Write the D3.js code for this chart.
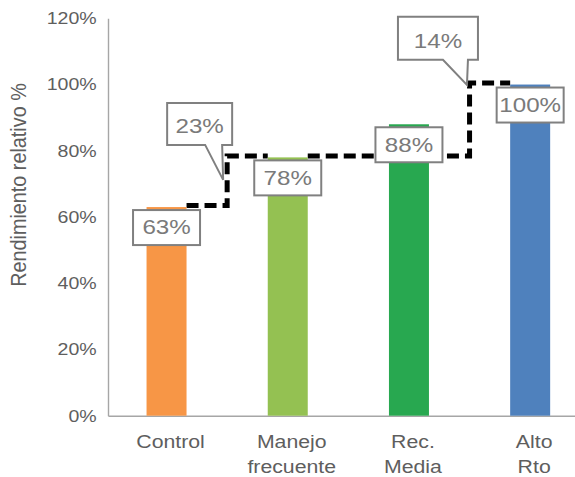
<!DOCTYPE html>
<html>
<head>
<meta charset="utf-8">
<script src="https://cdn.jsdelivr.net/npm/d3@7"></script>
<style>
  html, body { margin: 0; padding: 0; background: #fff; }
  svg { display: block; }
</style>
</head>
<body>
<svg id="chart" width="575" height="477"></svg>
<script>
// ---- data ----
const categories = ["Control", "Manejo\nfrecuente", "Rec.\nMedia", "Alto\nRto"];
const values = [0.63, 0.78, 0.88, 1.00];
const valueLabels = ["63%", "78%", "88%", "100%"];
const barColors = ["#F79646", "#94C152", "#28A850", "#4F81BD"];
// level of the dashed step line at each category
const stepLevels = [0.63, 0.78, 0.78, 1.00];
// labels for the jump between category i and i+1
const stepLabels = ["23%", null, "14%"];
const yTicks = [0, 0.2, 0.4, 0.6, 0.8, 1.0, 1.2];
const yTitle = "Rendimiento relativo %";

// ---- layout ----
const FONT = "'Liberation Sans', Arial, Helvetica, sans-serif";
const SX = 1.15;               // horizontal text stretch
const axisColor = "#a6a6a6";
const textColor = "#5e5e5e";
const boxStroke = "#808080";
const boxText = "#7a7a7a";

// callout geometry, relative to the pointer tip
const calloutLayout = {
  0: { tipDx: -4, tipDy: 22.5, left: -56, right: 9, top: -77, bottom: -35, baseL: -18, baseR: -1, textDy: 9.3 },
  2: { tipDx: -2.6, tipDy: 0.3, left: -69, right: 11, top: -68, bottom: -25, baseL: -24, baseR: 1, textDy: 9.8 }
};

const svg = d3.select("#chart");

const x = d3.scaleBand()
  .domain(categories)
  .range([108, 588.7])
  .paddingInner(0.67)
  .paddingOuter(0.318);

const y = d3.scaleLinear()
  .domain([0, 1.2])
  .range([415.7, 18.3]);

const bw = x.bandwidth();

// ---- y axis ----
const yAxis = svg.append("g")
  .attr("transform", "translate(108,0)")
  .call(d3.axisLeft(y).tickValues(yTicks).tickSize(0).tickSizeOuter(0).tickFormat(d3.format(".0%")));
yAxis.select(".domain").attr("stroke", axisColor).attr("stroke-width", 1.4);
yAxis.selectAll(".tick text")
  .attr("x", 0)
  .attr("transform", `translate(-11.3,0) scale(${SX},1)`)
  .attr("font-family", FONT)
  .attr("font-size", 17)
  .attr("fill", textColor);

// ---- x axis ----
const xAxis = svg.append("g")
  .attr("transform", `translate(0,${y(0)})`)
  .call(d3.axisBottom(x).tickSize(0).tickSizeOuter(0));
xAxis.select(".domain").attr("stroke", axisColor).attr("stroke-width", 1.4);
xAxis.selectAll(".tick text").each(function (d) {
  const t = d3.select(this);
  t.text(null)
    .attr("y", 0)
    .attr("dy", null)
    .attr("transform", `translate(4,31.8) scale(${SX},1)`)
    .attr("font-family", FONT)
    .attr("font-size", 18.5)
    .attr("fill", textColor);
  d.split("\n").forEach((line, i) => {
    t.append("tspan").attr("x", 0).attr("dy", i === 0 ? 0 : 25.5).text(line);
  });
});

// ---- y title ----
svg.append("text")
  .attr("transform", `translate(26,185) scale(${SX},1) rotate(-90)`)
  .attr("text-anchor", "middle")
  .attr("font-family", FONT)
  .attr("font-size", 19.8)
  .attr("fill", textColor)
  .text(yTitle);

// ---- dashed step line between bars ----
const line = d3.line();
const stepMid = i => (x(categories[i]) + x(categories[i + 1])) / 2 + bw / 2;
const stepG = svg.append("g");
for (let i = 0; i < categories.length - 1; i++) {
  const x0 = x(categories[i]) + bw;
  const x1 = x(categories[i + 1]);
  const xm = stepMid(i);
  const pts = [
    [x0, y(stepLevels[i]) - 1.5],
    [xm, y(stepLevels[i]) - 1.5],
    [xm, y(stepLevels[i + 1]) - 1.5],
    [x1, y(stepLevels[i + 1]) - 1.5]
  ];
  stepG.append("path")
    .attr("d", line(pts))
    .attr("fill", "none")
    .attr("stroke", "#000")
    .attr("stroke-width", 5)
    .attr("stroke-dasharray", "12,6")
    .attr("stroke-linejoin", "miter");
}

// ---- bars ----
svg.append("g").selectAll("rect")
  .data(categories)
  .join("rect")
  .attr("x", d => x(d))
  .attr("width", bw)
  .attr("y", (d, i) => y(values[i]))
  .attr("height", (d, i) => y(0) - y(values[i]))
  .attr("fill", (d, i) => barColors[i]);

// ---- value boxes ----
const boxW = 67, boxH = 35;
const vb = svg.append("g").selectAll("g")
  .data(categories)
  .join("g")
  .attr("transform", (d, i) => `translate(${x(d) + bw / 2},${y(values[i]) + 3})`);
vb.append("rect")
  .attr("x", -boxW / 2)
  .attr("y", 0)
  .attr("width", boxW)
  .attr("height", boxH)
  .attr("fill", "#fff")
  .attr("stroke", boxStroke)
  .attr("stroke-width", 2);
vb.append("text")
  .attr("transform", `translate(0,${boxH / 2 + 6.8}) scale(${SX},1)`)
  .attr("text-anchor", "middle")
  .attr("font-family", FONT)
  .attr("font-size", 21)
  .attr("fill", boxText)
  .text((d, i) => valueLabels[i]);

// ---- callouts on the steps ----
stepLabels.forEach((label, i) => {
  if (!label) return;
  const L = calloutLayout[i];
  const upper = Math.max(stepLevels[i], stepLevels[i + 1]);
  const tx = stepMid(i) + L.tipDx;
  const ty = y(upper) + L.tipDy;
  const g = svg.append("g").attr("transform", `translate(${tx},${ty})`);
  const p = d3.path();
  p.moveTo(L.left, L.top);
  p.lineTo(L.right, L.top);
  p.lineTo(L.right, L.bottom);
  p.lineTo(L.baseR, L.bottom);
  p.lineTo(0, 0);
  p.lineTo(L.baseL, L.bottom);
  p.lineTo(L.left, L.bottom);
  p.closePath();
  g.append("path")
    .attr("d", p.toString())
    .attr("fill", "#fff")
    .attr("stroke", boxStroke)
    .attr("stroke-width", 2)
    .attr("stroke-linejoin", "miter");
  g.append("text")
    .attr("transform", `translate(${(L.left + L.right) / 2},${(L.top + L.bottom) / 2 + L.textDy}) scale(${SX},1)`)
    .attr("text-anchor", "middle")
    .attr("font-family", FONT)
    .attr("font-size", 21)
    .attr("fill", boxText)
    .text(label);
});
</script>
</body>
</html>
